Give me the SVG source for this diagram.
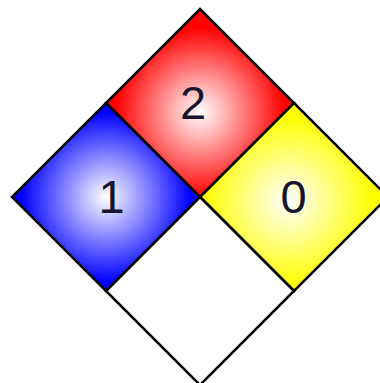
<svg xmlns="http://www.w3.org/2000/svg" width="380" height="383" viewBox="0 0 380 383">
<style>
.q{stroke:#000;stroke-width:2.5;stroke-linejoin:miter}
.t{font-family:"Liberation Sans",Arial,sans-serif;font-size:47px;fill:#15152e;text-anchor:middle}
</style>
<defs>
<radialGradient id="gr" cx="0.5" cy="0.55" r="0.45"><stop offset="0" stop-color="#fff"/><stop offset="1" stop-color="#f00"/></radialGradient>
<radialGradient id="gb" cx="0.5" cy="0.5" r="0.45"><stop offset="0" stop-color="#fff"/><stop offset="1" stop-color="#00f"/></radialGradient>
<radialGradient id="gy" cx="0.47" cy="0.52" r="0.45"><stop offset="0" stop-color="#fff"/><stop offset="1" stop-color="#ff0"/></radialGradient>
</defs>
<g id="flammability">
<path class="q" fill="url(#gr)" d="M200,9 L294,103 L200,197 L106,103 Z"/>
<text class="t" x="193" y="119">2</text>
</g>
<g id="health">
<path class="q" fill="url(#gb)" d="M106,103 L200,197 L106,291 L12,197 Z"/>
<text class="t" x="111.5" y="213">1</text>
</g>
<g id="instability">
<path class="q" fill="url(#gy)" d="M294,103 L388,197 L294,291 L200,197 Z"/>
<text class="t" x="293.5" y="213">0</text>
</g>
<g id="special">
<path class="q" fill="#fff" d="M200,197 L294,291 L200,385 L106,291 Z"/>
</g>
</svg>
